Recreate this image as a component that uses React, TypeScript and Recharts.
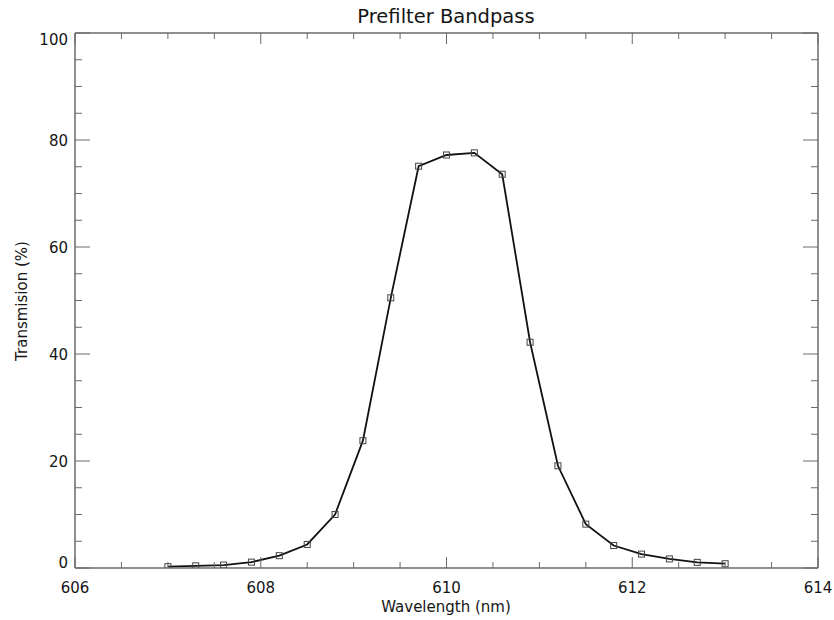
import React from "react";
import { LineChart, Line, XAxis, YAxis } from "recharts";

const wavelengths = [607.0, 607.3, 607.6, 607.9, 608.2, 608.5, 608.8, 609.1, 609.4, 609.7, 610.0, 610.3, 610.6, 610.9, 611.2, 611.5, 611.8, 612.1, 612.4, 612.7, 613.0];
const transmission = [0.25, 0.4, 0.55, 1.1, 2.3, 4.4, 10.0, 23.8, 50.5, 75.1, 77.2, 77.6, 73.6, 42.2, 19.1, 8.2, 4.2, 2.6, 1.7, 1.05, 0.8];

const xTicks = [606, 606.5, 607, 607.5, 608, 608.5, 609, 609.5, 610, 610.5, 611, 611.5, 612, 612.5, 613, 613.5, 614];
const xMajorTicks = [606, 608, 610, 612, 614];
const yTicks = [0, 5, 10, 15, 20, 25, 30, 35, 40, 45, 50, 55, 60, 65, 70, 75, 80, 85, 90, 95, 100];
const yMajorTicks = [0, 20, 40, 60, 80, 100];

const title = "Prefilter Bandpass";
const xLabel = "Wavelength (nm)";
const yLabel = "Transmision (%)";

const data = wavelengths.map((w, i) => ({ w, t: transmission[i] }));

const FONT = "'DejaVu Sans', sans-serif";
const AXIS = "#6a6a6a";
const TEXT = "#151515";

const BottomTick = (props: any) => {
  const { x, y, payload } = props;
  const v = payload.value;
  const major = xMajorTicks.includes(v);
  return (
    <g>
      <line x1={x} x2={x} y1={y} y2={y - (major ? 11 : 6)} stroke={AXIS} strokeWidth={1} />
      {major && (
        <text x={x} y={y + 25} textAnchor="middle" fontSize={15} fontFamily={FONT} fill={TEXT}>
          {v}
        </text>
      )}
    </g>
  );
};

const TopTick = (props: any) => {
  const { x, y, payload } = props;
  const major = xMajorTicks.includes(payload.value);
  return <line x1={x} x2={x} y1={y} y2={y + (major ? 11 : 6)} stroke={AXIS} strokeWidth={1} />;
};

const LeftTick = (props: any) => {
  const { x, y, payload } = props;
  const v = payload.value;
  const major = yMajorTicks.includes(v);
  const shift = v === 0 ? -6 : v === 100 ? 6 : 0;
  return (
    <g>
      <line x1={x} x2={x + (major ? 15 : 7)} y1={y} y2={y} stroke={AXIS} strokeWidth={1} />
      {major && (
        <text x={x - 7} y={y + shift + 5.5} textAnchor="end" fontSize={15} fontFamily={FONT} fill={TEXT}>
          {v}
        </text>
      )}
    </g>
  );
};

const RightTick = (props: any) => {
  const { x, y, payload } = props;
  const major = yMajorTicks.includes(payload.value);
  return <line x1={x} x2={x - (major ? 15 : 7)} y1={y} y2={y} stroke={AXIS} strokeWidth={1} />;
};

const SquareDot = (props: any) => {
  const { cx, cy } = props;
  if (cx == null || cy == null) return null;
  return <rect x={cx - 3} y={cy - 3} width={6} height={6} fill="none" stroke="#444" strokeWidth={1} />;
};

export default function App() {
  return (
    <div style={{ position: "absolute", left: 0, top: 0, width: 834, height: 620, background: "#fff" }}>
      <LineChart
        width={834}
        height={620}
        data={data}
        margin={{ top: 32, right: 15, bottom: 22, left: 15 }}
      >
        <XAxis
          xAxisId="bottom"
          dataKey="w"
          type="number"
          domain={[606, 614]}
          ticks={xTicks}
          interval={0}
          allowDataOverflow
          orientation="bottom"
          height={30}
          tickSize={0}
          tickMargin={0}
          tickLine={false}
          axisLine={{ stroke: AXIS, strokeWidth: 1.5 }}
          tick={<BottomTick />}
        />
        <XAxis
          xAxisId="top"
          dataKey="w"
          type="number"
          domain={[606, 614]}
          ticks={xTicks}
          interval={0}
          allowDataOverflow
          orientation="top"
          height={1}
          tickSize={0}
          tickMargin={0}
          tickLine={false}
          axisLine={{ stroke: AXIS, strokeWidth: 1.5 }}
          tick={<TopTick />}
        />
        <YAxis
          yAxisId="left"
          type="number"
          domain={[0, 100]}
          ticks={yTicks}
          interval={0}
          allowDataOverflow
          orientation="left"
          width={60}
          tickSize={0}
          tickMargin={0}
          tickLine={false}
          axisLine={{ stroke: AXIS, strokeWidth: 1.5 }}
          tick={<LeftTick />}
        />
        <YAxis
          yAxisId="right"
          type="number"
          domain={[0, 100]}
          ticks={yTicks}
          interval={0}
          allowDataOverflow
          orientation="right"
          width={1}
          tickSize={0}
          tickMargin={0}
          tickLine={false}
          axisLine={{ stroke: AXIS, strokeWidth: 1.5 }}
          tick={<RightTick />}
        />
        <Line
          xAxisId="bottom"
          yAxisId="left"
          dataKey="t"
          type="linear"
          stroke="#111"
          strokeWidth={1.8}
          dot={<SquareDot />}
          activeDot={false}
          isAnimationActive={false}
        />
      </LineChart>
      <div
        style={{
          position: "absolute",
          left: 0,
          width: 892,
          top: 5,
          textAlign: "center",
          fontFamily: FONT,
          fontSize: 19.5,
          color: TEXT,
          lineHeight: "24px",
        }}
      >
        {title}
      </div>
      <div
        style={{
          position: "absolute",
          left: 0,
          width: 892,
          top: 597,
          textAlign: "center",
          fontFamily: FONT,
          fontSize: 15,
          color: TEXT,
          lineHeight: "20px",
        }}
      >
        {xLabel}
      </div>
      <div
        style={{
          position: "absolute",
          left: 22 - 100,
          top: 301 - 10,
          width: 200,
          height: 20,
          lineHeight: "20px",
          textAlign: "center",
          transform: "rotate(-90deg)",
          fontFamily: FONT,
          fontSize: 15,
          color: TEXT,
        }}
      >
        {yLabel}
      </div>
    </div>
  );
}
